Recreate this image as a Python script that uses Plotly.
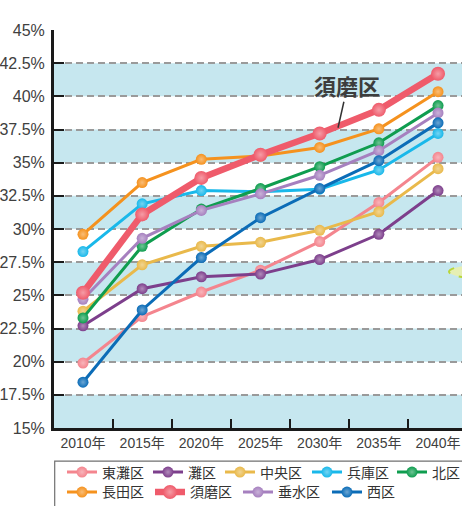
import plotly.graph_objects as go

YEARS = ["2010年", "2015年", "2020年", "2025年", "2030年", "2035年", "2040年"]

WARDS = ["東灘区", "灘区", "中央区", "兵庫区", "北区", "長田区", "須磨区", "垂水区", "西区"]

HIGASHINADA = [19.9, 23.4, 25.25, 26.9, 29.05, 32.0, 35.4]
NADA = [22.7, 25.5, 26.4, 26.6, 27.7, 29.6, 32.9]
CHUO = [23.8, 27.3, 28.7, 29.0, 29.9, 31.3, 34.55]
HYOGO = [28.3, 31.9, 32.9, 32.8, 33.0, 34.45, 37.2]
KITA = [23.3, 28.7, 31.5, 33.05, 34.7, 36.5, 39.3]
NAGATA = [29.6, 33.5, 35.25, 35.5, 36.15, 37.55, 40.35]
SUMA = [25.2, 31.1, 33.85, 35.6, 37.2, 38.98, 41.7]
TARUMI = [24.7, 29.3, 31.4, 32.65, 34.05, 35.9, 38.75]
NISHI = [18.45, 23.9, 27.85, 30.85, 33.05, 35.15, 38.0]

SERIES = [HIGASHINADA, NADA, CHUO, HYOGO, KITA, NAGATA, SUMA, TARUMI, NISHI]
COLORS = ["#f4858e", "#7d3f8c", "#e9b94b", "#19b8ea", "#0f9d4f",
          "#f5921e", "#ef5b6b", "#a680bf", "#0b6cb7"]

Y_TICKS = [15, 17.5, 20, 22.5, 25, 27.5, 30, 32.5, 35, 37.5, 40, 42.5, 45]
Y_TICK_TEXT = ["15%", "17.5%", "20%", "22.5%", "25%", "27.5%", "30%",
               "32.5%", "35%", "37.5%", "40%", "42.5%", "45%"]
BAND_STARTS = [15, 20, 25, 30, 35, 40]
BAND_HEIGHT = 2.5
HIGHLIGHT = "須磨区"

# figure geometry (pixels)
W, H = 462, 506
ML, MR, MT, MB = 54, 0, 30, 77.5
PW, PH = W - ML - MR, H - MT - MB


def px_x(p):
    return (p - ML) / PW


def px_y(p):
    return (H - MB - p) / PH


# legend entry origins (pixel x, pixel y-centre), laid out as in the reference
LEGEND_POS = [(62, 473), (148, 473), (220, 473), (307, 473), (392, 473),
              (62, 493), (150, 493), (238, 493), (327, 493)]


def lighten(hexcol, f=0.6):
    h = hexcol.lstrip("#")
    r, g, b = int(h[0:2], 16), int(h[2:4], 16), int(h[4:6], 16)
    r = int(r + (255 - r) * f)
    g = int(g + (255 - g) * f)
    b = int(b + (255 - b) * f)
    return "#%02x%02x%02x" % (r, g, b)


FONT = "Liberation Sans, Arial, Noto Sans CJK JP, sans-serif"

fig = go.Figure()

order = [i for i in range(len(WARDS)) if WARDS[i] != HIGHLIGHT] + \
        [i for i in range(len(WARDS)) if WARDS[i] == HIGHLIGHT]

legends = {}
for i in order:
    name = WARDS[i]
    big = name == HIGHLIGHT
    lg = "legend" if i == 0 else "legend%d" % (i + 1)
    fig.add_trace(go.Scatter(
        x=YEARS, y=SERIES[i], name=name, mode="lines+markers",
        legend=lg,
        line=dict(color=COLORS[i], width=6.5 if big else 3),
        marker=dict(size=14 if big else 11, color=COLORS[i],
                    gradient=dict(type="radial", color=lighten(COLORS[i], 0.4)),
                    line=dict(width=0)),
    ))
    lx, ly = LEGEND_POS[i]
    legends[lg] = dict(x=px_x(lx), xanchor="left", y=px_y(ly), yanchor="middle",
                       orientation="h", borderwidth=0, bgcolor="rgba(0,0,0,0)",
                       font=dict(size=14, color="#333333", family=FONT),
                       itemwidth=30)

shapes = []
for b in BAND_STARTS:
    shapes.append(dict(type="rect", xref="paper", yref="y", x0=0, x1=1,
                       y0=b, y1=b + BAND_HEIGHT, fillcolor="#c6e7ef",
                       line=dict(width=0), layer="below"))
# partial callout bubble at right edge
shapes.append(dict(type="circle", xref="paper", yref="paper",
                   x0=px_x(449), x1=px_x(520), y0=px_y(279), y1=px_y(265),
                   fillcolor="#e6efb4", line=dict(color="#b9d63a", width=2, dash="dash"),
                   layer="above"))
# legend frame
shapes.append(dict(type="rect", xref="paper", yref="paper",
                   x0=px_x(54.7), x1=px_x(470), y0=px_y(461.7), y1=px_y(515),
                   fillcolor="rgba(0,0,0,0)", line=dict(color="#707070", width=1.2)))

fig.update_layout(
    width=W, height=H,
    margin=dict(l=ML, r=MR, t=MT, b=MB, autoexpand=False),
    paper_bgcolor="white", plot_bgcolor="white",
    font=dict(family=FONT, color="#404040"),
    shapes=shapes,
    showlegend=True,
    annotations=[dict(x=4.31, y=37.63, xref="x", yref="y", text="須磨区",
                      showarrow=True, arrowhead=0, arrowwidth=1.5, arrowcolor="#333333",
                      ax=9, ay=-40,
                      font=dict(size=22, color="#3d3d3d", family=FONT, weight="bold"))],
    **legends,
)

fig.update_xaxes(
    type="category", range=[-0.49, 6.405],
    showline=True, linecolor="#1a1a1a", linewidth=3,
    ticks="inside", tickson="boundaries", ticklen=9, tickwidth=2, tickcolor="#1a1a1a",
    showgrid=False, tickfont=dict(size=14, color="#404040"),
)
fig.update_yaxes(
    range=[15, 45], tickvals=Y_TICKS, ticktext=Y_TICK_TEXT,
    showline=True, linecolor="#1a1a1a", linewidth=3,
    ticks="inside", ticklen=10, tickwidth=2, tickcolor="#1a1a1a",
    showgrid=True, gridcolor="#9a9a9a", gridwidth=1.5, griddash="7px,4px",
    zeroline=False, tickfont=dict(size=16, color="#404040"), ticklabelstandoff=3,
)

fig.write_html("out.html", config={"displayModeBar": False},
               post_script="document.body.style.margin='0';")
